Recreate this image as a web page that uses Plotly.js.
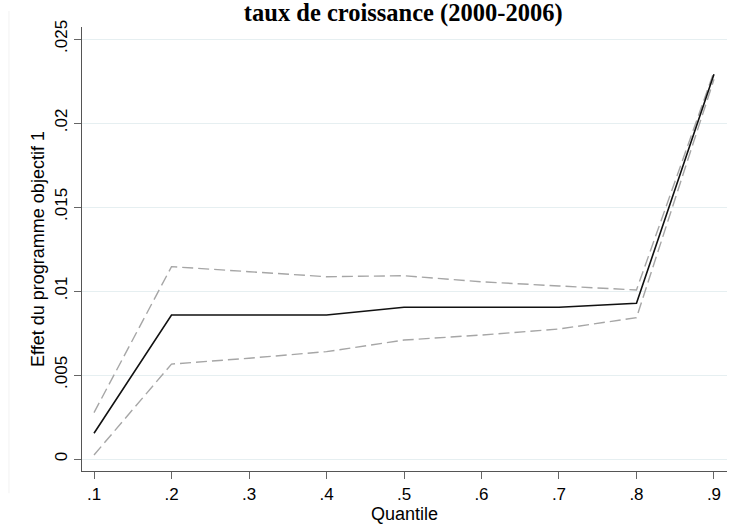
<!DOCTYPE html>
<html>
<head>
<meta charset="utf-8">
<script src="https://cdn.plot.ly/plotly-3.0.1.min.js"></script>
<style>html,body{margin:0;padding:0;background:#fff;}#chart{width:734px;height:525px;}</style>
</head>
<body>
<div id="chart"></div>
<script>
var quantiles = [0.1, 0.2, 0.3, 0.4, 0.5, 0.6, 0.7, 0.8, 0.9];
var effect = [0.00153, 0.00857, 0.00857, 0.00857, 0.00903, 0.00903, 0.00903, 0.00927, 0.0229];
var upperCI = [0.00276, 0.01145, 0.01115, 0.01085, 0.01091, 0.01055, 0.0103, 0.01006, 0.02305];
var lowerCI = [0.00024, 0.00565, 0.0060, 0.00639, 0.00708, 0.00738, 0.00774, 0.00841, 0.0226];
var xTickVals = [0.1, 0.2, 0.3, 0.4, 0.5, 0.6, 0.7, 0.8, 0.9];
var xTickText = ['.1', '.2', '.3', '.4', '.5', '.6', '.7', '.8', '.9'];
var yTickVals = [0, 0.005, 0.01, 0.015, 0.02, 0.025];
var yTickText = ['0', '.005', '.01', '.015', '.02', '.025'];

var dashStyle = {color: '#a6a6a6', width: 1.4, dash: '11px,5px'};
var traces = [
  {x: quantiles, y: upperCI, mode: 'lines', line: dashStyle, hoverinfo: 'skip'},
  {x: quantiles, y: lowerCI, mode: 'lines', line: dashStyle, hoverinfo: 'skip'},
  {x: quantiles, y: effect, mode: 'lines', line: {color: '#111111', width: 1.6}}
];

var layout = {
  width: 734, height: 525,
  paper_bgcolor: '#ffffff', plot_bgcolor: '#ffffff',
  showlegend: false,
  margin: {l: 82, r: 7, t: 27, b: 54, pad: 0},
  font: {family: 'Liberation Sans, Arial, sans-serif', size: 15, color: '#000'},
  title: {
    text: '<b>taux de croissance (2000-2006)</b>',
    font: {family: 'Liberation Serif, Times New Roman, serif', size: 24.5, color: '#000'},
    x: 0.498, xref: 'paper', xanchor: 'center',
    y: 0.977, yref: 'container', yanchor: 'middle'
  },
  xaxis: {
    range: [0.0845, 0.9168],
    tickvals: xTickVals, ticktext: xTickText,
    ticks: 'outside', ticklen: 7, tickcolor: '#666', tickwidth: 1,
    showline: true, linecolor: '#555', linewidth: 1.2,
    showgrid: false, zeroline: false,
    tickfont: {size: 17},
    title: {text: 'Quantile', font: {size: 18}, standoff: 1}
  },
  yaxis: {
    range: [-0.000714, 0.025714],
    tickvals: yTickVals, ticktext: yTickText,
    tickangle: -90,
    ticks: 'outside', ticklen: 7, tickcolor: '#666', tickwidth: 1,
    showline: true, linecolor: '#555', linewidth: 1.2,
    showgrid: true, gridcolor: '#e6eff1', gridwidth: 1,
    zeroline: false,
    tickfont: {size: 17},
    title: {text: 'Effet du programme objectif 1', font: {size: 18}, standoff: 2}
  },
  shapes: [
    {type: 'line', xref: 'paper', yref: 'paper', x0: -0.1132, x1: -0.1132, y0: 1.036, y1: -0.05, line: {color: '#f2f2f2', width: 1}}
  ]
};

Plotly.newPlot('chart', traces, layout, {displayModeBar: false, staticPlot: true});
</script>
</body>
</html>
